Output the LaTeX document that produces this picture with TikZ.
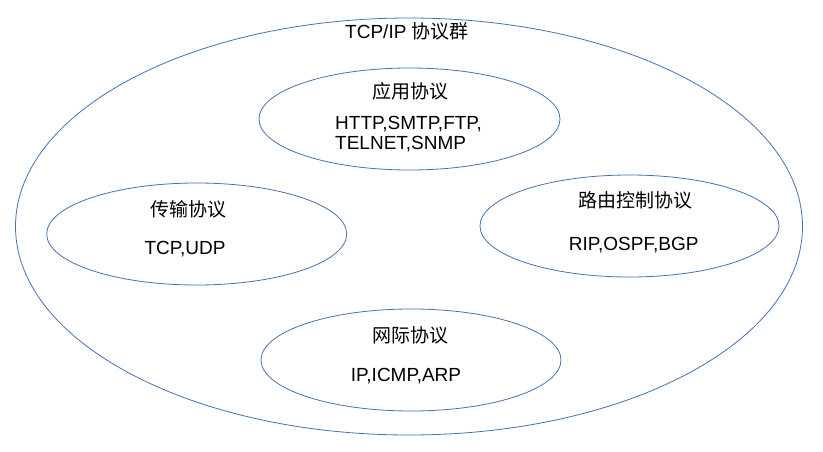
\documentclass[tikz,border=0pt]{standalone}
\usepackage{fontspec}
\setmainfont{Liberation Sans}
\newfontfamily\cjk{Noto Sans CJK SC}
\usetikzlibrary{shapes.geometric}
\definecolor{edgeblue}{RGB}{68,114,180}
\begin{document}
\begin{tikzpicture}[x=1pt,y=-1pt,
  oval/.style={ellipse,draw=edgeblue,line width=0.8pt,inner sep=0pt},
  lbl/.style={inner sep=0pt,anchor=base,font=\fontsize{19}{23}\selectfont},
  lblw/.style={inner sep=0pt,anchor=base west,font=\fontsize{19}{23}\selectfont}]
\useasboundingbox[fill=white] (0,0) rectangle (823,452);
\node[oval,minimum width=787pt,minimum height=417pt] (all) at (409,226.5) {};
\node[oval,minimum width=301pt,minimum height=102pt] (app) at (409.5,119) {};
\node[oval,minimum width=300pt,minimum height=102pt] (trans) at (196.7,234) {};
\node[oval,minimum width=299pt,minimum height=102pt] (route) at (629.5,226) {};
\node[oval,minimum width=300pt,minimum height=102pt] (ip) at (411,360) {};
\node[lbl] (title) at (407,38.8) {TCP/IP {\cjk 协议群}};
\node[lbl] (apph) at (410,98.2) {\cjk 应用协议};
\node[lblw] (appa) at (335,129.8) {HTTP,SMTP,FTP,};
\node[lblw] (appb) at (335,149.8) {TELNET,SNMP};
\node[lbl] (transh) at (188,216.2) {\cjk 传输协议};
\node[lbl] (transa) at (185,254.8) {TCP,UDP};
\node[lbl] (routeh) at (635.7,207.2) {\cjk 路由控制协议};
\node[lbl] (routea) at (633.7,250.8) {RIP,OSPF,BGP};
\node[lbl] (iph) at (410.5,342.2) {\cjk 网际协议};
\node[lbl] (ipa) at (406,381.8) {IP,ICMP,ARP};
\end{tikzpicture}
\end{document}
